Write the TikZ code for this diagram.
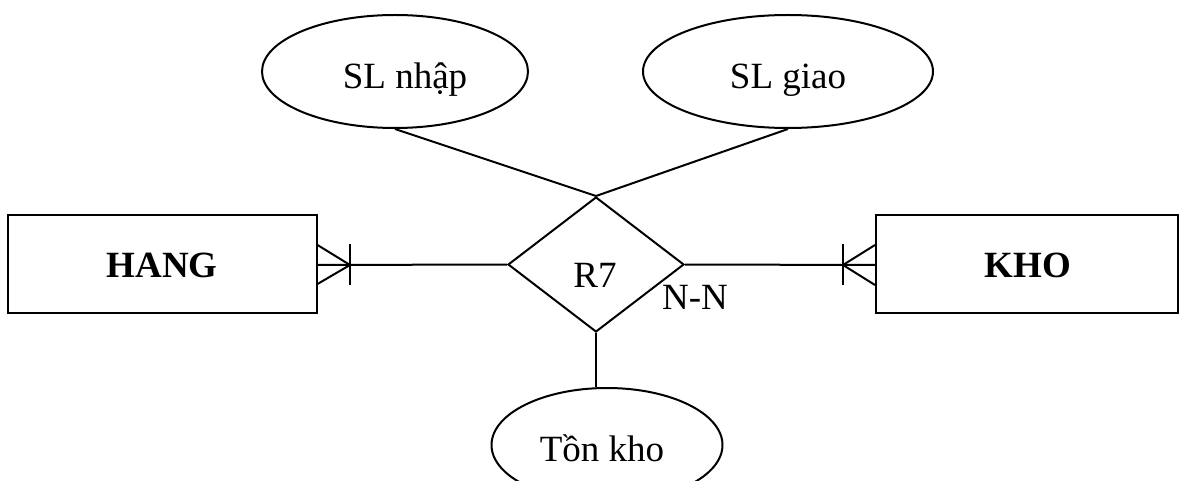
\documentclass[tikz,border=0pt]{standalone}
\usepackage{fontspec}
\setmainfont{Liberation Serif}
\usetikzlibrary{shapes.geometric}
\begin{document}
\begin{tikzpicture}[x=1pt,y=-1pt,
  every node/.style={font=\fontsize{37}{44}\selectfont},
  ln/.style={line width=2pt, line cap=butt, line join=miter},
  entity/.style={draw, ln, rectangle, minimum width=309pt, minimum height=97pt, inner sep=0pt},
  attr/.style={draw, ln, ellipse, inner sep=0pt},
  rel/.style={draw, ln, diamond, minimum width=176pt, minimum height=135pt, inner sep=0pt},
  lbl/.style={inner sep=0pt, anchor=center}]
\useasboundingbox (0,0) rectangle (1186,481);
\clip (0,0) rectangle (1186,481);
% entities
\node[entity] (hang) at (162,264) {};
\node[lbl, font=\fontsize{37}{44}\selectfont\bfseries] (hangt) at (162,265) {HANG};
\node[entity, minimum width=302pt] (kho) at (1027,264) {};
\node[lbl, font=\fontsize{37}{44}\selectfont\bfseries] (khot) at (1028,265) {KHO};
% relationship
\node[rel] (r7) at (596,264.5) {};
\node[lbl] (r7t) at (595,275) {R7};
\node[lbl] (nn) at (695,297) {N-N};
% attributes
\node[attr, minimum width=266pt, minimum height=113pt] (nhap) at (395,71.5) {};
\node[lbl] (nhapt) at (405,80) {SL nhập};
\node[attr, minimum width=290pt, minimum height=113pt] (giao) at (788,71.5) {};
\node[lbl] (giaot) at (788,80) {SL giao};
\node[attr, minimum width=231pt, minimum height=114pt] (ton) at (607,445) {};
\node[lbl] (tont) at (602,448) {Tồn kho};
% connectors
\draw[ln] (nhap.south) -- (r7.north);
\draw[ln] (giao.south) -- (r7.north);
\draw[ln] (r7.south) -- (ton.north -| r7.south);
\coordinate (hf) at (350,265);
\coordinate (kf) at (843,265);
\draw[ln] (hang.east |- hf) -- (r7.west);
\draw[ln] (r7.east) -- (kho.west |- kf);
% crow's feet HANG
\draw[ln] (hf |- 0,244) -- (hf |- 0,285);
\draw[ln] (hang.east |- 0,245) -- (hf) -- (hang.east |- 0,284);
% crow's feet KHO
\draw[ln] (kf |- 0,244) -- (kf |- 0,285);
\draw[ln] (kho.west |- 0,245) -- (kf) -- (kho.west |- 0,285);
\end{tikzpicture}
\end{document}
